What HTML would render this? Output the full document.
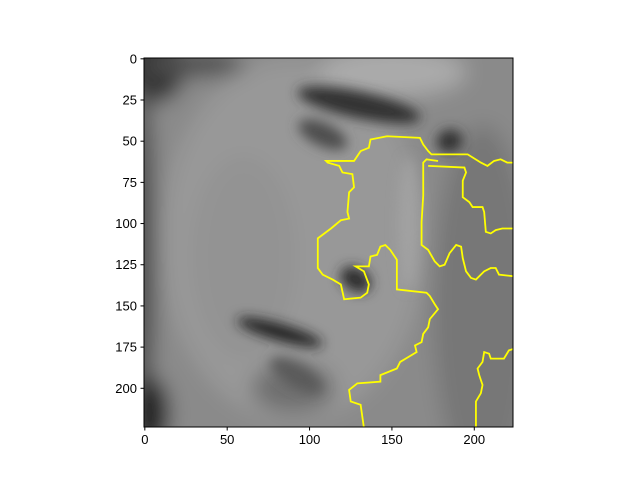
<!DOCTYPE html>
<html><head><meta charset="utf-8"><style>
body{margin:0;background:#fff;font-family:"Liberation Sans",sans-serif}
svg text{font-family:"Liberation Sans",sans-serif;font-size:13px;fill:#000}
</style></head><body>
<svg id="chart" width="640" height="480" viewBox="0 0 640 480" xmlns="http://www.w3.org/2000/svg">
<defs>
<filter id="blur" filterUnits="userSpaceOnUse" x="0" y="0" width="640" height="480"><feGaussianBlur stdDeviation="10"/></filter>
<filter id="blurS" filterUnits="userSpaceOnUse" x="0" y="0" width="640" height="480"><feGaussianBlur stdDeviation="6"/></filter>
<clipPath id="clip"><rect x="144" y="58" width="369" height="369"/></clipPath>
</defs>
<g clip-path="url(#clip)">
<g id="shade" filter="url(#blur)"><rect x="100" y="20" width="460" height="450" fill="#8a8a8a"/></g>
<g id="shadeS" filter="url(#blurS)"></g>
</g>
<g id="contours" clip-path="url(#clip)"></g>
<rect x="144" y="58" width="369" height="369" fill="none" stroke="#000" stroke-width="1"/>
<g id="ticks"></g>
</svg>
<script>
const xTicks=[0,50,100,150,200];
const yTicks=[0,25,50,75,100,125,150,175,200];
const contourA=[[133,224],[131,210],[125,208],[124,201],[129,197],[143,196],[143,192],[153,188],[155,184],[160,181],[165,178],[164,174],[168,172],[169,167],[172,163],[173,158],[178,152],[176,149],[173,144],[171,142],[153,140],[153,122],[149,116],[146,113],[143,114],[141,119],[137,120],[136,126],[128,126],[133,129],[136,137],[135,142],[131,145],[121,146],[119,137],[114,134],[108,131],[105,127],[105,109],[113,103],[119,98],[124,97],[123,93],[124,81],[127,78],[126,70],[120,69],[118,65],[111,63],[110,62],[127,62],[131,56],[136,54],[137,49],[147,47],[167,48],[169,52],[172,56],[174,58],[196,58],[204,63],[208,65],[212,62],[216,61],[220,63],[224,63]];
const contourB=[[178,62],[171,61],[169,63],[169,83],[168,99],[168,113],[172,116],[176,123],[179,126],[182,125],[185,118],[189,113],[192,114],[193,121],[195,129],[198,133],[201,134],[204,131],[206,129],[210,127],[213,127],[215,131],[224,132]];
const contourC=[[172,65],[194,66],[195,69],[193,74],[193,84],[197,87],[199,90],[205,90],[206,93],[207,105],[210,106],[213,104],[217,103],[224,103]];
const contourD=[[201,224],[201,208],[204,203],[205,198],[203,192],[202,188],[205,184],[206,178],[209,179],[210,182],[218,182],[221,177],[224,176]];
// large soft shading blobs: [cx, cy, rx, ry, rotation, gray]
const blobs=[[90,110,80,110,0,"#989898"],[205,150,30,110,0,"#777"],[150,8,45,15,0,"#aaa"],[5,5,20,22,0,"#333"],[30,3,30,8,0,"#505050"],[-2,120,8,110,0,"#4a4a4a"],[3,215,12,22,0,"#222"],[60,120,30,60,0,"#939393"],[90,200,25,15,0,"#707070"]];
// small features: [cx, cy, rx, ry, rotation, gray]
const features=[[130,28,38,8,12,"#333"],[108,46,16,7,25,"#4e4e4e"],[185,50,8,7,-20,"#333"],[160,100,6,40,0,"#a2a2a2"],[128,134,10,7,30,"#2e2e2e"],[82,166,27,5,16,"#222"],[92,192,18,7,30,"#5a5a5a"]];
const S=369/224;
function xs(u){return 144+(u+0.5)*S;}
function ys(v){return 58+(v+0.5)*S;}
const NS="http://www.w3.org/2000/svg";
function drawBlobs(arr,g){
 arr.forEach(b=>{
  const e=document.createElementNS(NS,'ellipse');
  e.setAttribute('cx',xs(b[0]));e.setAttribute('cy',ys(b[1]));
  e.setAttribute('rx',b[2]*S);e.setAttribute('ry',b[3]*S);
  e.setAttribute('transform','rotate('+b[4]+' '+xs(b[0])+' '+ys(b[1])+')');
  e.setAttribute('fill',b[5]);
  
  
  g.appendChild(e);
 });
}
drawBlobs(blobs,document.getElementById('shade'));
drawBlobs(features,document.getElementById('shadeS'));
const cg=document.getElementById('contours');
[contourA,contourB,contourC,contourD].forEach((c,i)=>{
 const p=document.createElementNS(NS,'polyline');
 p.setAttribute('points',c.map(q=>xs(q[0])+','+ys(q[1])).join(' '));
 p.setAttribute('fill','none');p.setAttribute('stroke','#ffff00');p.setAttribute('stroke-width','1.8');
 
 
 cg.appendChild(p);
});
const tg=document.getElementById('ticks');
xTicks.forEach(t=>{
 const x=xs(t);
 const l=document.createElementNS(NS,'line');
 l.setAttribute('x1',x);l.setAttribute('x2',x);l.setAttribute('y1',427);l.setAttribute('y2',430.5);l.setAttribute('stroke','#000');
 
 
 tg.appendChild(l);
 const tx=document.createElementNS(NS,'text');
 tx.setAttribute('x',x);tx.setAttribute('y',444);tx.setAttribute('text-anchor','middle');tx.textContent=t;
 
 
 tg.appendChild(tx);
});
yTicks.forEach(t=>{
 const y=ys(t);
 const l=document.createElementNS(NS,'line');
 l.setAttribute('x1',140.5);l.setAttribute('x2',144);l.setAttribute('y1',y);l.setAttribute('y2',y);l.setAttribute('stroke','#000');
 
 
 tg.appendChild(l);
 const tx=document.createElementNS(NS,'text');
 tx.setAttribute('x',137);tx.setAttribute('y',y+4.5);tx.setAttribute('text-anchor','end');tx.textContent=t;
 
 
 tg.appendChild(tx);
});
</script>
</body></html>
